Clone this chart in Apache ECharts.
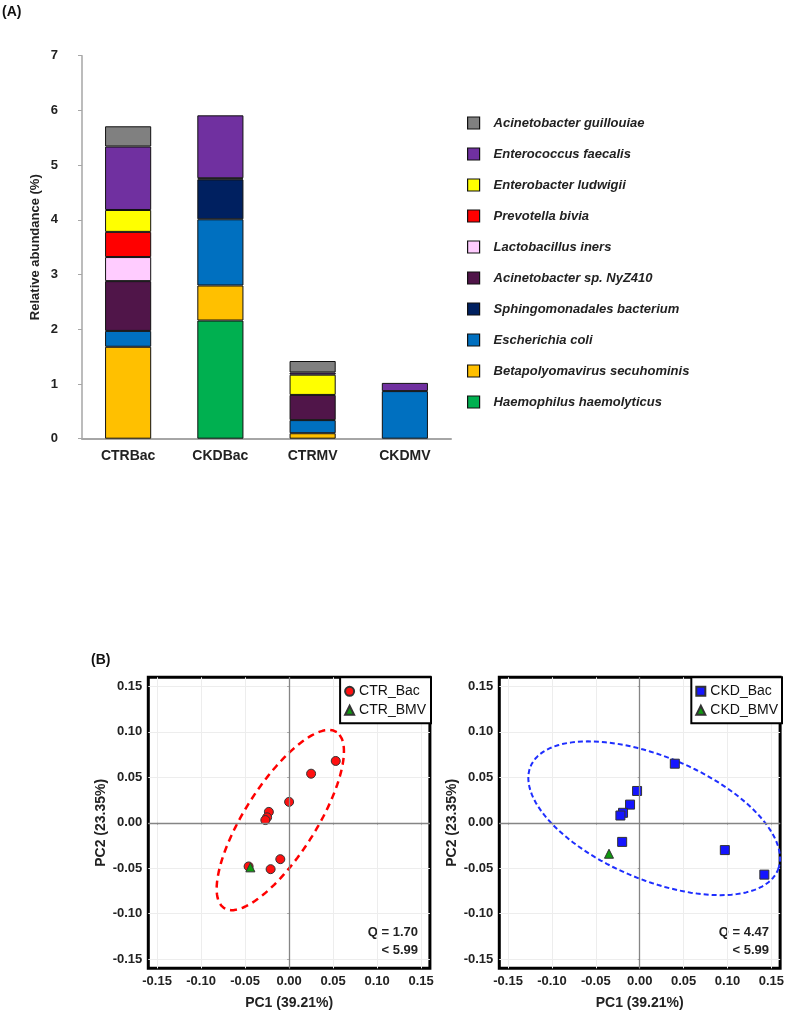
<!DOCTYPE html>
<html><head><meta charset="utf-8">
<script src="https://cdn.jsdelivr.net/npm/echarts@6/dist/echarts.min.js"></script>
<style>html,body{margin:0;padding:0;background:#fff}#c{width:787px;height:1012px}</style>
</head><body><div id="c"></div>
<script>
// ---------- Panel A data ----------
const categories = ['CTRBac', 'CKDBac', 'CTRMV', 'CKDMV'];
// stacked bottom -> top
const haemophilus  = [null, 2.16, null, null];
const betapoly     = [1.68, 0.64, 0.10, null];
const ecoli        = [0.29, 1.21, 0.24, 0.87];
const sphingo      = [null, 0.73, null, null];
const acinetoSp    = [0.91, 0.02, 0.46, null];
const lacto        = [0.44, null, null, null];
const prevotella   = [0.46, null, null, null];
const enterobacter = [0.40, null, 0.37, null];
const enterococcus = [1.16, 1.15, 0.04, 0.15];
const guillouiae   = [0.37, null, 0.21, null];
const yTicksA = { min: 0, max: 7, interval: 1 };

// ---------- Panel B data ----------
const ctrBac = [[0.053, 0.068], [0.025, 0.054], [0.000, 0.023], [-0.023, 0.012], [-0.025, 0.006],
                [-0.027, 0.003], [-0.010, -0.040], [-0.021, -0.051], [-0.046, -0.048]];
const ctrBmv = [[-0.044, -0.049]];
const ckdBac = [[0.040, 0.065], [-0.003, 0.035], [-0.011, 0.020], [-0.019, 0.011], [-0.022, 0.008],
                [-0.020, -0.021], [0.097, -0.030], [0.142, -0.057]];
const ckdBmv = [[-0.035, -0.034]];
const pcTicks = [-0.15, -0.10, -0.05, 0.00, 0.05, 0.10, 0.15];
// confidence ellipses: center, semi-axes, rotation (deg)
const ctrEllipse = { cx: -0.010, cy: 0.003, a: 0.116, b: 0.040, angle: 56.4 };
const ckdEllipse = { cx: 0.0165, cy: 0.005, a: 0.152, b: 0.068, angle: -21.7 };
const ctrQ = ['Q = 1.70', '< 5.99'];
const ckdQ = ['Q = 4.47', '< 5.99'];

function ellipsePath(e) {
  const pts = [];
  const th = e.angle * Math.PI / 180;
  for (let i = 0; i <= 120; i++) {
    const t = i / 120 * 2 * Math.PI;
    const ux = e.a * Math.cos(t), uy = e.b * Math.sin(t);
    pts.push([e.cx + ux * Math.cos(th) - uy * Math.sin(th), e.cy + ux * Math.sin(th) + uy * Math.cos(th)]);
  }
  return pts;
}

const FONT = 'Liberation Sans, Arial, sans-serif';
const species = [
  ['Haemophilus haemolyticus', haemophilus, '#00B050'],
  ['Betapolyomavirus secuhominis', betapoly, '#FFC000'],
  ['Escherichia coli', ecoli, '#0070C0'],
  ['Sphingomonadales bacterium', sphingo, '#002060'],
  ['Acinetobacter sp. NyZ410', acinetoSp, '#501549'],
  ['Lactobacillus iners', lacto, '#FFCCFF'],
  ['Prevotella bivia', prevotella, '#FF0000'],
  ['Enterobacter ludwigii', enterobacter, '#FFFF00'],
  ['Enterococcus faecalis', enterococcus, '#7030A0'],
  ['Acinetobacter guillouiae', guillouiae, '#808080']
];

const barSeries = species.map(s => ({
  name: s[0], type: 'bar', stack: 'total', xAxisIndex: 0, yAxisIndex: 0,
  barWidth: '50%', data: s[1],
  itemStyle: { color: s[2], borderColor: '#111', borderWidth: 1 }
}));

function pcAxis(gridIndex, name, isY) {
  return {
    type: 'value', gridIndex, min: -0.16, max: 0.16,
    name, nameLocation: 'middle', nameGap: isY ? 40 : 28,
    nameTextStyle: { fontFamily: FONT, fontWeight: 'bold', fontSize: 14, color: '#222' },
    axisLine: { show: false },
    axisTick: { show: true, customValues: pcTicks, length: 2, lineStyle: { color: '#aaa' } },
    axisLabel: {
      customValues: pcTicks, formatter: v => v.toFixed(2),
      fontFamily: FONT, fontWeight: 'bold', fontSize: 13, color: '#222',
      margin: isY ? 6 : 7, padding: isY ? [9, 0, 0, 0] : 0
    },
    splitLine: { show: true, lineStyle: { color: '#ededed', width: 1 } }
  };
}

function ellipseSeries(idx, e, color, width, dash) {
  return {
    type: 'line', xAxisIndex: idx, yAxisIndex: idx, data: ellipsePath(e),
    showSymbol: false, symbol: 'none', silent: true, z: 2,
    lineStyle: { color, width, type: dash },
    markLine: {
      silent: true, symbol: 'none', label: { show: false },
      lineStyle: { color: '#858585', width: 1.3, type: 'solid' },
      data: [{ xAxis: 0 }, { yAxis: 0 }]
    }
  };
}

function scatter(idx, name, data, symbol, color, size) {
  return {
    name, type: 'scatter', xAxisIndex: idx, yAxisIndex: idx, data, symbol, symbolSize: size, z: 3,
    itemStyle: { color, borderColor: '#333', borderWidth: 1, opacity: 1 }
  };
}

function qText(x, lines) {
  return lines.map((t, i) => ({
    type: 'text', right: 787 - x, top: 926 + i * 18,
    style: { text: t, font: 'bold 13px ' + FONT, fill: '#222', textAlign: 'right' }
  }));
}

const option = {
  backgroundColor: '#fff',
  animation: false,
  textStyle: { fontFamily: FONT },
  graphic: [
    { type: 'text', left: 2, top: 5, style: { text: '(A)', font: 'bold 14px ' + FONT, fill: '#111' } },
    { type: 'text', left: 91, top: 653, style: { text: '(B)', font: 'bold 14px ' + FONT, fill: '#111' } },
    ...qText(418, ctrQ),
    ...qText(769, ckdQ)
  ],
  grid: [
    { left: 82, top: 55.7, width: 369, height: 383, containLabel: false },
    { left: 148.3, top: 677.3, width: 281.6, height: 291, show: true, borderColor: '#000', borderWidth: 3, backgroundColor: '#fff' },
    { left: 499.3, top: 677.3, width: 282.4, height: 291, show: true, borderColor: '#000', borderWidth: 3, backgroundColor: '#fff' }
  ],
  legend: [
    {
      data: species.map(s => s[0]).reverse(),
      orient: 'vertical', left: 467, top: 116, padding: 0,
      itemWidth: 12, itemHeight: 12, itemGap: 17, icon: 'rect',
      itemStyle: { borderColor: '#111', borderWidth: 1.2 },
      textStyle: { fontFamily: FONT, fontWeight: 'bold', fontStyle: 'italic', fontSize: 13, color: '#222', lineHeight: 14, padding: [0, 0, 0, 9] }
    },
    {
      data: [{ name: 'CTR_Bac', icon: 'circle' }, { name: 'CTR_BMV', icon: 'triangle' }],
      orient: 'vertical', right: 356, top: 677.3, padding: [7, 5, 6, 4],
      itemWidth: 9, itemHeight: 9, itemGap: 5,
      borderColor: '#000', borderWidth: 2, backgroundColor: '#fff',
      textStyle: { fontFamily: FONT, fontSize: 14, color: '#111', lineHeight: 14 }
    },
    {
      data: [{ name: 'CKD_Bac', icon: 'rect' }, { name: 'CKD_BMV', icon: 'triangle' }],
      orient: 'vertical', right: 5, top: 677.3, padding: [7, 4, 6, 4],
      itemWidth: 9, itemHeight: 9, itemGap: 5,
      borderColor: '#000', borderWidth: 2, backgroundColor: '#fff',
      textStyle: { fontFamily: FONT, fontSize: 14, color: '#111', lineHeight: 14 }
    }
  ],
  xAxis: [
    {
      type: 'category', gridIndex: 0, data: categories,
      axisLine: { lineStyle: { color: '#a6a6a6', width: 2 } },
      axisTick: { show: false },
      axisLabel: { fontFamily: FONT, fontWeight: 'bold', fontSize: 14, color: '#222', margin: 10 }
    },
    pcAxis(1, 'PC1 (39.21%)', false),
    pcAxis(2, 'PC1 (39.21%)', false)
  ],
  yAxis: [
    {
      type: 'value', gridIndex: 0, min: yTicksA.min, max: yTicksA.max, interval: yTicksA.interval,
      name: 'Relative abundance (%)', nameLocation: 'middle', nameGap: 40,
      nameTextStyle: { fontFamily: FONT, fontWeight: 'bold', fontSize: 13, color: '#222' },
      axisLine: { show: true, lineStyle: { color: '#a6a6a6', width: 1.5 } },
      axisTick: { show: true, length: 4, lineStyle: { color: '#a6a6a6' } },
      axisLabel: { fontFamily: FONT, fontWeight: 'bold', fontSize: 13, color: '#222', margin: 24 },
      splitLine: { show: false }
    },
    pcAxis(1, 'PC2 (23.35%)', true),
    pcAxis(2, 'PC2 (23.35%)', true)
  ],
  series: [
    ...barSeries,
    ellipseSeries(1, ctrEllipse, '#FF0000', 2.5, [7, 5]),
    ellipseSeries(2, ckdEllipse, '#1E2EFF', 2, [5, 3]),
    scatter(1, 'CTR_Bac', ctrBac, 'circle', '#FF1010', 9),
    scatter(1, 'CTR_BMV', ctrBmv, 'triangle', '#109A10', 9),
    scatter(2, 'CKD_Bac', ckdBac, 'rect', '#1515FF', 9),
    scatter(2, 'CKD_BMV', ckdBmv, 'triangle', '#109A10', 9)
  ]
};
echarts.init(document.getElementById('c'), null, { renderer: 'canvas' }).setOption(option);
</script>
</body></html>
